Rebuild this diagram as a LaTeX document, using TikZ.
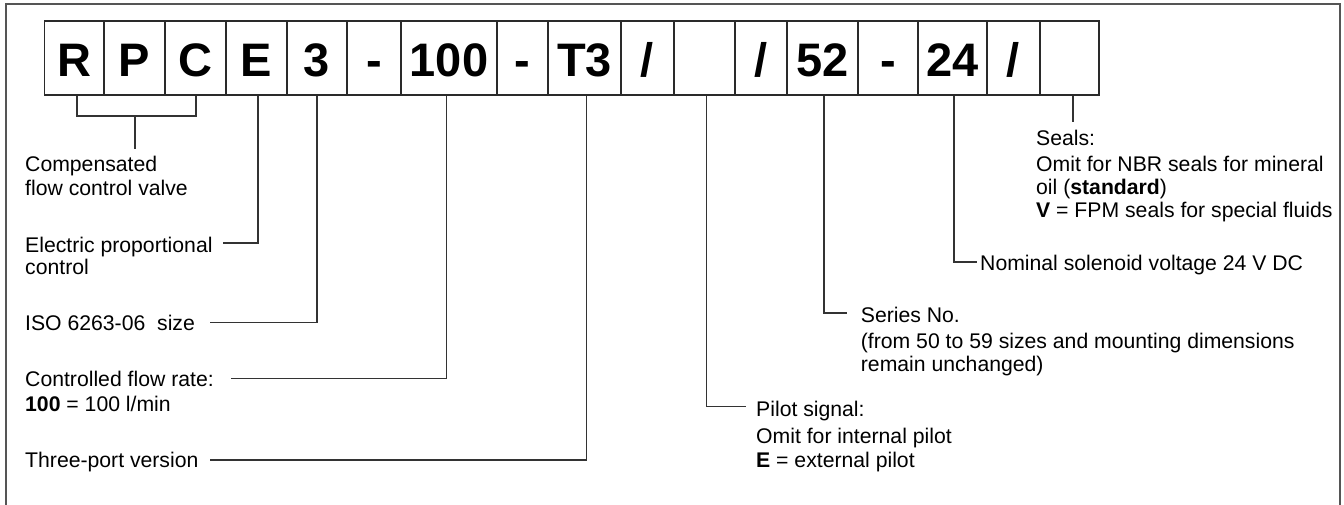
\documentclass[tikz,border=0pt]{standalone}
\usepackage{fontspec}
\setmainfont{Liberation Sans}
\newcommand\lblfont{\fontsize{21.2}{23.5}\selectfont}
\newcommand\codefont{\fontsize{47}{47}\selectfont\bfseries}
\definecolor{framecol}{HTML}{555555}
\definecolor{boxcol}{HTML}{2A2A2A}
\definecolor{lncol}{HTML}{333333}
\tikzset{
  codebox/.style={draw=boxcol, line width=1.1pt, minimum height=74pt, inner sep=0pt,
    text height=36pt, text depth=0pt, font=\codefont, anchor=center},
  conn/.style={draw=lncol, line width=1.2pt},
  lbl/.style={anchor=base west, inner sep=0pt, font=\lblfont, text=black},
  frameln/.style={draw=framecol, line width=1.5pt}
}
\begin{document}
\begin{tikzpicture}[x=1pt,y=-1pt]
\useasboundingbox (0,0) rectangle (1344,504);
% frame (open at the bottom edge of the picture)
\draw[frameln] (6,506) -- (6,4) -- (1340,4) -- (1340,506);
% code boxes
\node[codebox, minimum width=59.5pt] (b1)  at (74.25,58) {R};
\node[codebox, minimum width=61pt]   (b2)  at (134.5,58) {P};
\node[codebox, minimum width=61pt]   (b3)  at (195.5,58) {C};
\node[codebox, minimum width=61pt]   (b4)  at (256.5,58) {E};
\node[codebox, minimum width=60pt]   (b5)  at (317,58) {3};
\node[codebox, minimum width=54pt]   (b6)  at (374,58) {-};
\node[codebox, minimum width=96pt]   (b7)  at (449,58) {100};
\node[codebox, minimum width=51pt]   (b8)  at (522.5,58) {-};
\node[codebox, minimum width=73pt]   (b9)  at (584.5,58) {T3};
\node[codebox, minimum width=53pt]   (b10) at (647.5,58) {/};
\node[codebox, minimum width=61pt]   (b11) at (704.5,58) {};
\node[codebox, minimum width=52pt]   (b12) at (761,58) {/};
\node[codebox, minimum width=71pt]   (b13) at (822.5,58) {52};
\node[codebox, minimum width=60pt]   (b14) at (888,58) {-};
\node[codebox, minimum width=69pt]   (b15) at (952.5,58) {24};
\node[codebox, minimum width=53pt]   (b16) at (1013.5,58) {/};
\node[codebox, minimum width=59pt]   (b17) at (1069.5,58) {};
% labels
\node[lbl] (t1a) at (25,171) {Compensated};
\node[lbl] (t1b) at (25,195) {flow control valve};
\node[lbl] (t4a) at (25,252) {Electric proportional};
\node[lbl] (t4b) at (25,274) {control};
\node[lbl] (t5)  at (25,330.7) {ISO 6263-06~ size};
\node[lbl] (t7a) at (25,386.7) {Controlled flow rate:};
\node[lbl] (t7b) at (25,411) {\textbf{100} = 100 l/min};
\node[lbl] (t9)  at (25,467.5) {Three-port version};
\node[lbl] (t11a) at (756,416) {Pilot signal:};
\node[lbl] (t11b) at (756,443) {Omit for internal pilot};
\node[lbl] (t11c) at (756,467) {\textbf{E} = external pilot};
\node[lbl] (t13a) at (860.7,322.5) {Series No.};
\node[lbl] (t13b) at (860.7,348) {(from 50 to 59 sizes and mounting dimensions};
\node[lbl] (t13c) at (860.7,371) {remain unchanged)};
\node[lbl] (t15) at (980,270) {Nominal solenoid voltage 24 V DC};
\node[lbl] (t17a) at (1036,145) {Seals:};
\node[lbl] (t17b) at (1036,171) {Omit for NBR seals for mineral};
\node[lbl] (t17c) at (1036,194) {oil (\textbf{standard})};
\node[lbl] (t17d) at (1036,217) {\textbf{V} = FPM seals for special fluids};
% connector ends
\coordinate (k1) at (135,116);
\coordinate (c1) at (135,149);
\coordinate (c4) at (223,243);
\coordinate (c5) at (210,322.7);
\coordinate (c7) at (231,378.3);
\coordinate (c9) at (210,460);
\coordinate (c11) at (746,406.7);
\coordinate (c13) at (846.7,313);
\coordinate (c15) at (977,262);
\coordinate (c17) at (1073,122);
% connectors
\draw[conn] ([xshift=2.75pt]b1.south) |- (k1) -| ([xshift=0.5pt]b3.south);
\draw[conn] (k1) -- (c1);
\draw[conn] ([xshift=1.5pt]b4.south) |- (c4);
\draw[conn] (b5.south) |- (c5);
\draw[conn] ([xshift=-2.3pt]b7.south) |- (c7);
\draw[conn] ([xshift=2.2pt]b9.south) |- (c9);
\draw[conn] ([xshift=2.2pt]b11.south) |- (c11);
\draw[conn] ([xshift=1.5pt]b13.south) |- (c13);
\draw[conn] ([xshift=1.5pt]b15.south) |- (c15);
\draw[conn] ([xshift=3.5pt]b17.south) -- (c17);
\end{tikzpicture}
\end{document}
